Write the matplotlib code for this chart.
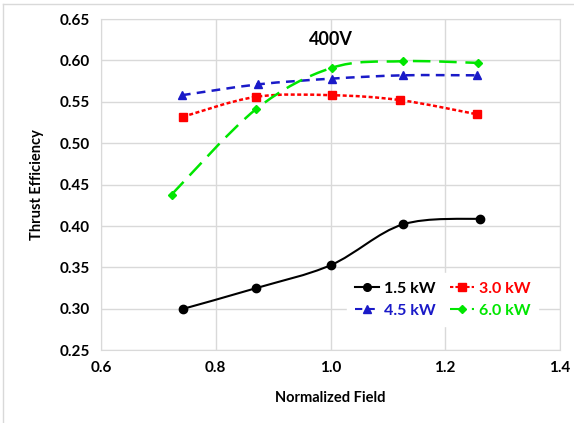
import numpy as np
import matplotlib
matplotlib.use('Agg')
import matplotlib.pyplot as plt
from matplotlib.path import Path
from matplotlib.patches import PathPatch
from matplotlib.lines import Line2D

plt.rcParams['font.family'] = ['Lato', 'DejaVu Sans']

# data
field_15 = [0.743, 0.870, 1.001, 1.126, 1.261]
eff_15 = [0.300, 0.325, 0.353, 0.402, 0.409]
field_30 = [0.743, 0.870, 1.002, 1.122, 1.255]
eff_30 = [0.532, 0.556, 0.558, 0.552, 0.535]
field_45 = [0.741, 0.873, 1.002, 1.127, 1.256]
eff_45 = [0.558, 0.571, 0.578, 0.582, 0.582]
field_60 = [0.723, 0.870, 1.002, 1.126, 1.257]
eff_60 = [0.438, 0.541, 0.591, 0.599, 0.597]

labels = ['1.5 kW', '3.0 kW', '4.5 kW', '6.0 kW']
colors = ['black', '#FF0000', '#1A1AC8', '#00E600']
markers = ['o', 's', '^', 'D']
msizes = [6, 6, 6, 4.5]
dashes = [None, (1.6, 1.0), (3.5, 2.5), (7, 3.5)]


def smooth_path(x, y):
    # Excel-like smoothed line: cubic bezier through the points
    pts = np.column_stack([x, y])
    n = len(pts)
    verts = [pts[0]]
    codes = [Path.MOVETO]
    for i in range(n - 1):
        p0 = pts[max(i - 1, 0)]
        p1 = pts[i]
        p2 = pts[i + 1]
        p3 = pts[min(i + 2, n - 1)]
        c1 = p1 + (p2 - p0) / 6.0
        c2 = p2 - (p3 - p1) / 6.0
        verts += [c1, c2, p2]
        codes += [Path.CURVE4] * 3
    return Path(verts, codes)


fig = plt.figure(figsize=(5.74, 4.23), dpi=100)
ax = fig.add_axes([101 / 574, 1 - 350.3 / 423, 459 / 574, 331.3 / 423])

series = [(field_15, eff_15), (field_30, eff_30), (field_45, eff_45), (field_60, eff_60)]
handles = []
for (x, y), c, m, ms, d, lab in zip(series, colors, markers, msizes, dashes, labels):
    patch = PathPatch(smooth_path(x, y), facecolor='none', edgecolor=c,
                      lw=1.5 if d is None else 1.8, zorder=3)
    if d is not None:
        patch.set_linestyle((0, d))
    ax.add_patch(patch)
    ax.plot(x, y, linestyle='none', marker=m, color=c, markersize=ms, zorder=4)
    h = Line2D([], [], color=c, marker=m, markersize=ms - 0.5, lw=1.5,
               linestyle='-' if d is None else (0, d))
    handles.append(h)

ax.set_xlim(0.6, 1.4)
ax.set_ylim(0.25, 0.65)
ax.set_xticks([0.6, 0.8, 1.0, 1.2, 1.4])
ax.set_yticks(np.arange(0.25, 0.651, 0.05))
ax.set_xticklabels(['0.6', '0.8', '1.0', '1.2', '1.4'])
ax.set_yticklabels(['%.2f' % v for v in np.arange(0.25, 0.651, 0.05)])
ax.tick_params(length=0, labelsize=11, pad=8)
for lbl in ax.get_xticklabels() + ax.get_yticklabels():
    lbl.set_fontweight('bold')
ax.grid(True, color='#D9D9D9', lw=1)
ax.set_axisbelow(True)
for s in ax.spines.values():
    s.set_color('#D9D9D9')

ax.set_xlabel('Normalized Field', fontsize=10.5, fontweight='bold', labelpad=11)
ax.set_ylabel('Thrust Efficiency', fontsize=10.5, fontweight='bold', labelpad=11)
ax.text(1.001, 0.625, '400V', fontsize=13, fontweight='bold', ha='center', va='center')

# legend: 1.5 / 3.0 on first row, 4.5 / 6.0 on second
order = [0, 2, 1, 3]
leg = ax.legend([handles[i] for i in order], [labels[i] for i in order],
                ncol=2, loc='lower right', bbox_to_anchor=(0.97, 0.05),
                frameon=True, fancybox=False, framealpha=1, edgecolor='white',
                handlelength=1.5, handletextpad=0.3,
                columnspacing=0.9, labelspacing=0.5, borderpad=0.5,
                prop={'weight': 'bold', 'size': 11.5})
for txt, i in zip(leg.get_texts(), order):
    txt.set_color(colors[i])

# light border of the chart area
fig.add_artist(Line2D([3 / 574, 3 / 574], [0, 1 - 4 / 423], color='#D9D9D9', lw=1))
fig.add_artist(Line2D([3 / 574, 1], [1 - 4 / 423, 1 - 4 / 423], color='#D9D9D9', lw=1))

fig.savefig('out.png', dpi=100)
